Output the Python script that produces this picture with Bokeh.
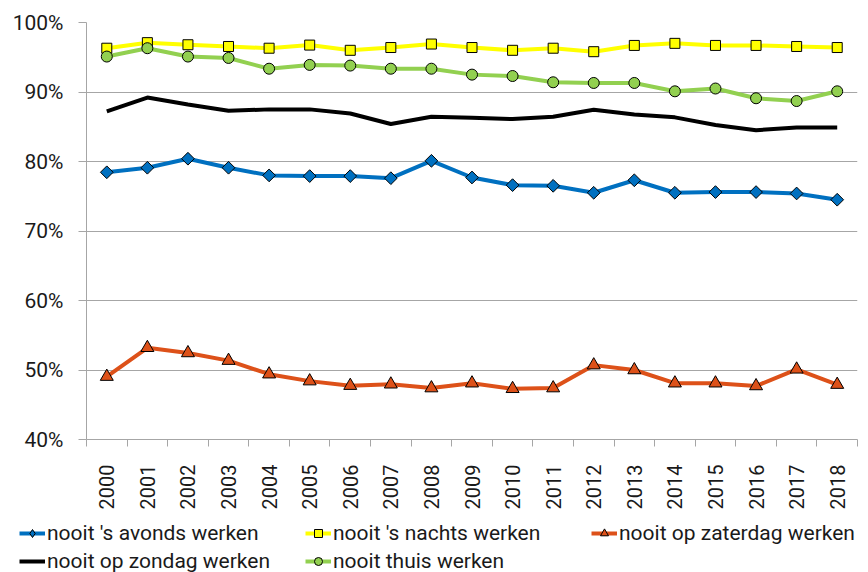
import math
from bokeh.plotting import figure
from bokeh.layouts import column
from bokeh.models import (Range1d, FixedTicker, PrintfTickFormatter, Legend,
                          LegendItem, ColumnDataSource)
from bokeh.embed import file_html
from bokeh.resources import INLINE

years = list(range(2000, 2019))
avonds = [78.45, 79.1, 80.4, 79.1, 78.0, 77.9, 77.9, 77.6, 80.1, 77.7,
          76.6, 76.5, 75.5, 77.3, 75.5, 75.6, 75.6, 75.4, 74.5]
nachts = [96.3, 97.1, 96.8, 96.55, 96.3, 96.75, 96.0, 96.4, 96.9, 96.4,
          96.0, 96.3, 95.8, 96.7, 97.0, 96.7, 96.7, 96.55, 96.4]
zaterdag = [49.05, 53.2, 52.45, 51.35, 49.4, 48.4, 47.75, 47.95, 47.4, 48.1,
            47.3, 47.4, 50.7, 50.0, 48.1, 48.1, 47.7, 50.1, 47.9]
zondag = [87.2, 89.2, 88.2, 87.3, 87.5, 87.5, 86.9, 85.4, 86.45, 86.3,
          86.1, 86.45, 87.45, 86.75, 86.35, 85.25, 84.5, 84.9, 84.9]
thuis = [95.1, 96.3, 95.1, 94.9, 93.35, 93.9, 93.8, 93.35, 93.35, 92.5,
         92.3, 91.4, 91.3, 91.3, 90.1, 90.5, 89.1, 88.7, 90.1]
labels = ["nooit 's avonds werken", "nooit 's nachts werken",
          "nooit op zaterdag werken", "nooit op zondag werken",
          "nooit thuis werken"]
y_ticks = [40, 50, 60, 70, 80, 90, 100]

FONT = "Roboto"
GRAY = "#a6a6a6"
TXT = "#1a1a1a"
C_AV, C_NA, C_ZA, C_ZO, C_TH = "#0070c0", "#ffff00", "#dd5119", "black", "#92d050"

src = ColumnDataSource(dict(year=years, avonds=avonds, nachts=nachts,
                            zaterdag=zaterdag, zondag=zondag, thuis=thuis))

p = figure(width=868, height=515, output_backend="svg", toolbar_location=None,
           x_range=Range1d(years[0] - 0.5, years[-1] + 0.5),
           y_range=Range1d(y_ticks[0], y_ticks[-1]))
p.frame_align = False
p.min_border_left = 86
p.min_border_right = 11
p.min_border_top = 22
p.min_border_bottom = 76
p.outline_line_color = None

# axes
boundaries = [y - 0.5 for y in years] + [years[-1] + 0.5]
p.xaxis.ticker = FixedTicker(ticks=years, minor_ticks=boundaries)
p.xaxis.major_label_orientation = math.pi / 2
p.xaxis.major_tick_line_color = None
p.xaxis.major_tick_out = 0
p.xaxis.major_tick_in = 0
p.xaxis.minor_tick_line_color = GRAY
p.xaxis.minor_tick_out = 7
p.xaxis.minor_tick_in = 0
p.xaxis.major_label_standoff = 18
p.xaxis.axis_line_color = GRAY
p.xaxis.major_label_text_font_size = "20px"
p.xgrid.grid_line_color = None

p.yaxis.ticker = FixedTicker(ticks=y_ticks, minor_ticks=[])
p.yaxis.formatter = PrintfTickFormatter(format="%d%%")
p.yaxis.major_tick_out = 8
p.yaxis.major_tick_in = 0
p.yaxis.major_tick_line_color = GRAY
p.yaxis.minor_tick_line_color = None
p.yaxis.major_label_standoff = 15
p.yaxis.axis_line_color = GRAY
p.yaxis.major_label_text_font_size = "21px"
p.ygrid.grid_line_color = GRAY
p.ygrid.grid_line_width = 1

for ax in (p.xaxis, p.yaxis):
    ax.major_label_text_font = FONT
    ax.major_label_text_color = TXT

LW = 4
MK = dict(av=dict(marker="square", angle=math.pi / 4, size=9, fill_color=C_AV,
                  line_color="black", line_width=1),
          na=dict(marker="square", size=10, fill_color=C_NA,
                  line_color="black", line_width=1),
          za=dict(marker="triangle", size=13, fill_color=C_ZA,
                  line_color="black", line_width=1),
          th=dict(marker="circle", size=11, fill_color=C_TH,
                  line_color="black", line_width=1))

p.line("year", "avonds", source=src, line_color=C_AV, line_width=LW)
p.scatter("year", "avonds", source=src, **MK["av"])
p.line("year", "nachts", source=src, line_color=C_NA, line_width=LW)
p.scatter("year", "nachts", source=src, **MK["na"])
p.line("year", "zaterdag", source=src, line_color=C_ZA, line_width=LW)
p.scatter("year", "zaterdag", source=src, **MK["za"])
p.line("year", "zondag", source=src, line_color=C_ZO, line_width=LW)
p.line("year", "thuis", source=src, line_color=C_TH, line_width=LW)
p.scatter("year", "thuis", source=src, **MK["th"])

# legend strip (separate figure so the legend is not clipped by the plot frame)
q = figure(width=868, height=57, output_backend="svg", toolbar_location=None,
           x_axis_type=None, y_axis_type=None,
           x_range=Range1d(0, 1), y_range=Range1d(0, 1))
q.frame_align = False
q.min_border = 0
q.outline_line_color = None
# legend-only sample glyphs, placed outside the visible range
hidden = ColumnDataSource(dict(x=[-5, -4], y=[-5, -4]))

LEG_MK = dict(av=dict(marker="diamond", size=11, fill_color=C_AV,
                      line_color="black", line_width=1),
              na=dict(marker="square", size=8, fill_color=C_NA,
                      line_color="black", line_width=1),
              za=dict(marker="triangle", size=10, fill_color=C_ZA,
                      line_color="black", line_width=1),
              th=dict(marker="circle", size=8, fill_color=C_TH,
                      line_color="black", line_width=1))


def leg_renderers(color, mk=None):
    rs = [q.line("x", "y", source=hidden, line_color=color, line_width=LW)]
    if mk is not None:
        rs.append(q.scatter("x", "y", source=hidden, **mk))
    return rs


legend = Legend(items=[
    LegendItem(label=labels[0], renderers=leg_renderers(C_AV, LEG_MK["av"])),
    LegendItem(label=labels[1], renderers=leg_renderers(C_NA, LEG_MK["na"])),
    LegendItem(label=labels[2], renderers=leg_renderers(C_ZA, LEG_MK["za"])),
    LegendItem(label=labels[3], renderers=leg_renderers(C_ZO)),
    LegendItem(label=labels[4], renderers=leg_renderers(C_TH, LEG_MK["th"])),
], orientation="horizontal", ncols=3, location=(19, -1))
legend.label_text_font = FONT
legend.label_text_font_size = "21px"
legend.label_text_color = TXT
legend.glyph_width = 26
legend.glyph_height = 20
legend.label_height = 24
legend.label_width = 254
legend.label_standoff = 2
legend.spacing = 4
legend.padding = 0
legend.margin = 0
legend.border_line_color = None
legend.background_fill_alpha = 0
q.add_layout(legend)

open("out.html", "w").write(file_html(column(p, q, spacing=0), INLINE))
